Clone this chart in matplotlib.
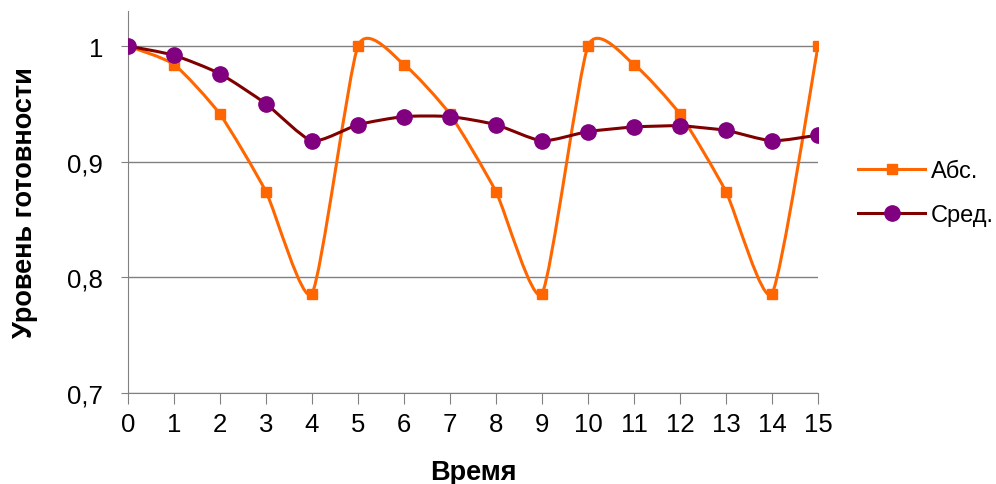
import matplotlib.pyplot as plt
from matplotlib.path import Path
from matplotlib.patches import PathPatch
from matplotlib.lines import Line2D

plt.rcParams['font.family'] = ['Liberation Sans', 'DejaVu Sans']

# Data
time = list(range(16))
abs_vals = [1.0, 0.984, 0.941, 0.874, 0.786, 1.0, 0.984, 0.941, 0.874, 0.786,
            1.0, 0.984, 0.941, 0.874, 0.786, 1.0]
avg_vals = [1.0, 0.992, 0.976, 0.950, 0.918, 0.932, 0.939, 0.939, 0.932, 0.918,
            0.926, 0.930, 0.931, 0.927, 0.918, 0.923]
yticks = [0.7, 0.8, 0.9, 1.0]
ytick_labels = ['0,7', '0,8', '0,9', '1']

ORANGE = '#FF6600'
MAROON = '#800000'
PURPLE = '#800080'
SMOOTH = 0.1  # how far the Bezier handles reach


def smooth_path(x, y):
    # Excel-style smoothed line: cubic Bezier through the points
    verts = [(x[0], y[0])]
    codes = [Path.MOVETO]
    n = len(x)
    for i in range(n - 1):
        x0, y0 = (x[i - 1], y[i - 1]) if i > 0 else (x[i], y[i])
        x3, y3 = (x[i + 2], y[i + 2]) if i + 2 < n else (x[i + 1], y[i + 1])
        c1 = (x[i] + (x[i + 1] - x0) * SMOOTH, y[i] + (y[i + 1] - y0) * SMOOTH)
        c2 = (x[i + 1] - (x3 - x[i]) * SMOOTH, y[i + 1] - (y3 - y[i]) * SMOOTH)
        verts += [c1, c2, (x[i + 1], y[i + 1])]
        codes += [Path.CURVE4] * 3
    return Path(verts, codes)


fig = plt.figure(figsize=(9.96, 4.85), dpi=100)
ax = fig.add_axes([0.1285, 0.1876, 0.6928, 0.7877])

ax.add_patch(PathPatch(smooth_path(time, abs_vals), fill=False,
                       edgecolor=ORANGE, lw=2.2, zorder=3))
ax.plot(time, abs_vals, ls='none', marker='s', ms=6.5, color=ORANGE, zorder=4)
ax.add_patch(PathPatch(smooth_path(time, avg_vals), fill=False,
                       edgecolor=MAROON, lw=2.2, zorder=5))
ax.plot(time, avg_vals, ls='none', marker='o', ms=11, color=PURPLE, zorder=6)

ax.set_xlim(0, 15)
ax.set_ylim(0.7, 1.0303)
ax.set_xticks(time)
ax.set_yticks(yticks)
ax.set_yticklabels(ytick_labels)
ax.grid(axis='y', color='#808080', lw=1)
ax.set_axisbelow(True)
for s in ['top', 'right']:
    ax.spines[s].set_visible(False)
for s in ['left', 'bottom']:
    ax.spines[s].set_color('#808080')
ax.tick_params(axis='x', length=8, color='#808080', labelsize=18.5, pad=6)
ax.tick_params(axis='y', length=5, color='#808080', labelsize=18.5, pad=13)

ax.set_xlabel('Время', fontsize=19.5, fontweight='bold', labelpad=16)
ax.set_ylabel('Уровень готовности', fontsize=19.5, fontweight='bold', labelpad=21)

handles = [
    Line2D([], [], color=ORANGE, lw=2.2, marker='s', ms=6.5),
    Line2D([], [], color=MAROON, lw=2.2, marker='o', ms=11,
           markerfacecolor=PURPLE, markeredgecolor=PURPLE),
]
fig.legend(handles, ['Абс.', 'Сред.'], loc='center left',
           bbox_to_anchor=(0.8614, 0.6), frameon=False, fontsize=17,
           handlelength=2.85, handletextpad=0.25, labelspacing=0.95,
           borderpad=0, borderaxespad=0)

fig.savefig('out.png', dpi=100)
